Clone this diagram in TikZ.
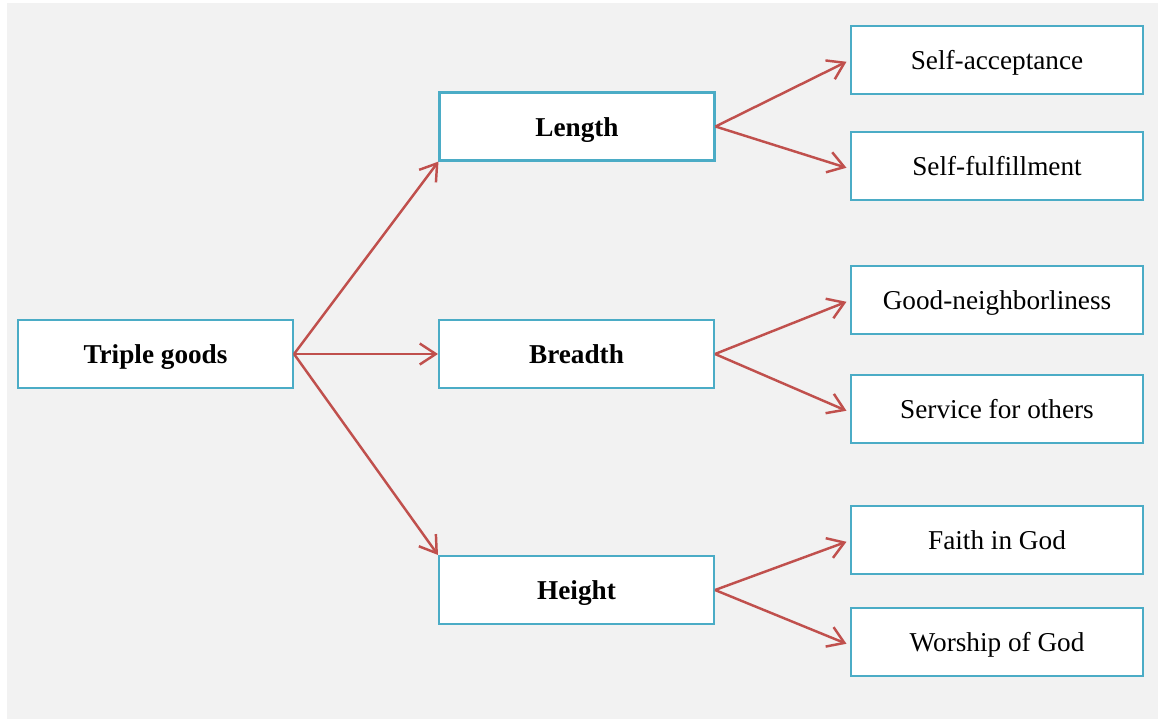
\documentclass[tikz,border=0pt]{standalone}
\usepackage{fontspec}
\setmainfont{Liberation Serif}
\usetikzlibrary{arrows.meta}
\definecolor{boxline}{HTML}{4BACC6}
\definecolor{arrowred}{HTML}{C0504D}
\definecolor{bggray}{HTML}{F2F2F2}
\tikzset{
    goodbox/.style={draw=boxline,fill=white,line width=1.2pt,minimum width=5.5cm,minimum height=1.36cm,inner sep=0pt,text height=11.2pt,text depth=0pt,font=\fontsize{15.5}{18}\selectfont\bfseries},
    leafbox/.style={goodbox,minimum width=5.84cm,font=\fontsize{15.5}{18}\selectfont},
    link/.style={draw=arrowred,line width=1.4pt,-{Straight Barb[length=3.2mm,width=4.2mm]}},
  }
\begin{document}
\begin{tikzpicture}[x=0.02cm,y=-0.02cm]
				  \useasboundingbox (0,0) rectangle (1158,721);
				  \fill[bggray] (7,3) rectangle (1158,719);
				  %root and the three dimensions
				  \node[goodbox](T) at (155.5,354){Triple goods};
				  \node[goodbox](L) at (577,126.5){Length};
				  \node[goodbox](B) at (576.5,354){Breadth};
				  \node[goodbox](H) at (576.5,590){Height};
				  %leaves
				  \node[leafbox](L1) at (997,60){Self-acceptance};
				  \node[leafbox](L2) at (997,166){Self-fulfillment};
				  \node[leafbox](B1) at (997,300){Good-neighborliness};
				  \node[leafbox](B2) at (997,409){Service for others};
				  \node[leafbox](H1) at (997,540){Faith in God};
				  \node[leafbox](H2) at (997,642){Worship of God};

				  \draw[link] (T.east) -- (L.south west);
				  \draw[link] (T.east) -- (B.west);
				  \draw[link] (T.east) -- (H.north west);
				  \draw[link] (L.east) -- ([xshift=-2pt,yshift=-1pt]L1.west);
				  \draw[link] (L.east) -- ([xshift=-2pt,yshift=-1pt]L2.west);
				  \draw[link] (B.east) -- ([xshift=-2pt,yshift=-1pt]B1.west);
				  \draw[link] (B.east) -- ([xshift=-2pt,yshift=-1pt]B2.west);
				  \draw[link] (H.east) -- ([xshift=-2pt,yshift=-1pt]H1.west);
				  \draw[link] (H.east) -- ([xshift=-2pt,yshift=-1pt]H2.west);
\end{tikzpicture}
\end{document}
